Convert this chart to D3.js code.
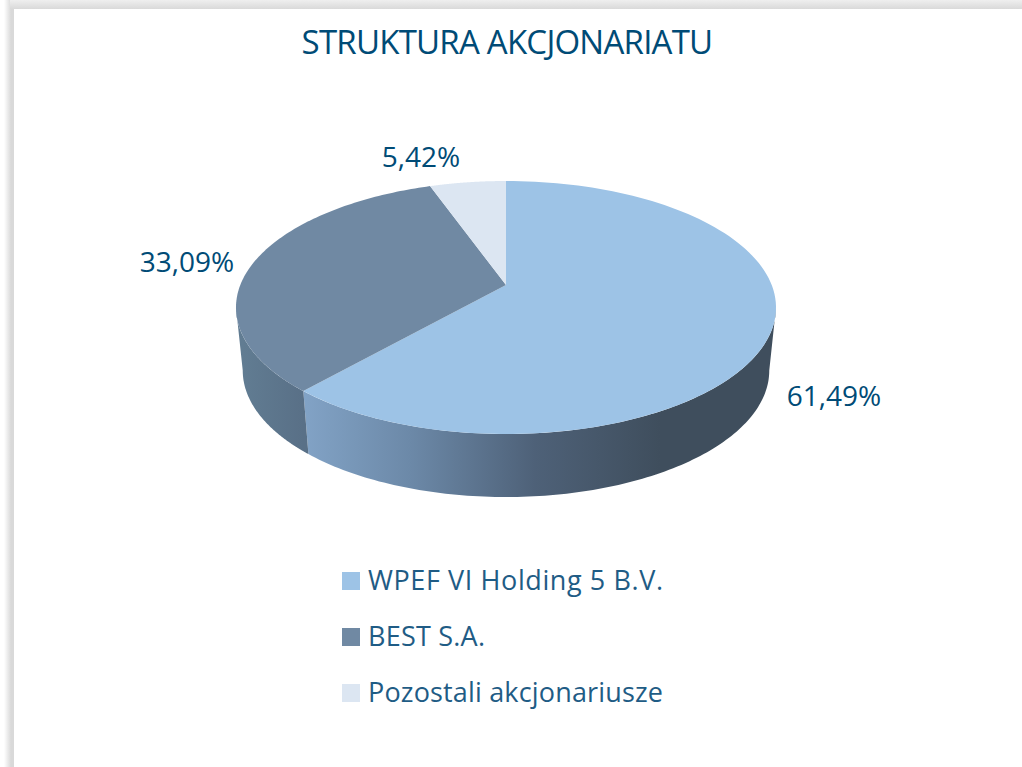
<!DOCTYPE html>
<html><head><meta charset="utf-8">
<script src="https://cdn.jsdelivr.net/npm/d3@7"></script>
<style>html,body{margin:0;padding:0;background:#fff}svg{display:block}text{font-family:"Open Sans",sans-serif}</style>
</head><body><div id="c"></div>
<script>
const title = "STRUKTURA AKCJONARIATU";
const categories = ["WPEF VI Holding 5 B.V.", "BEST S.A.", "Pozostali akcjonariusze"];
const values = [61.49, 33.09, 5.42];
const labels = ["61,49%", "33,09%", "5,42%"];
const topColors = ["#9dc3e6", "#7089a3", "#dce6f2"];
const W = 1022, H = 767, ink = "#004b76", legendInk = "#1f5c85";

const svg = d3.select("#c").append("svg").attr("width", W).attr("height", H);
const defs = svg.append("defs");
function grad(id, x1, y1, x2, y2, stops){
  const g = defs.append("linearGradient").attr("id", id).attr("gradientUnits","userSpaceOnUse")
    .attr("x1",x1).attr("y1",y1).attr("x2",x2).attr("y2",y2);
  stops.forEach(s => g.append("stop").attr("offset", s[0]).attr("stop-color", s[1]));
}
// page frame shadow
grad("fTop",0,0,0,9,[[0,"#efefef"],[1,"#d9d9d9"]]);
grad("fLeft",4,0,11,0,[[0,"#ffffff"],[1,"#d9d9d9"]]);
svg.append("rect").attr("x",4).attr("y",0).attr("width",10).attr("height",H).attr("fill","url(#fLeft)");
svg.append("rect").attr("x",10).attr("y",0).attr("width",W-10).attr("height",9).attr("fill","url(#fTop)");

// perspective projection of a disc, angle measured clockwise from the top
const cx = 506, cy = 285, A = 265.7, B = 122.5, k = 0.178, depth = 63, shrink = 0.975;
const project = (a, low) => {
  const d = 1 + k * Math.cos(a);
  const x = A * Math.sin(a) / d, y = -B * Math.cos(a) / d;
  return low ? [cx + x * shrink, cy + y + depth] : [cx + x, cy + y];
};
const line = d3.line();
const pie = d3.pie().sort(null).value(d => d)(values);
const rimAngles = (a0, a1) => d3.range(0, 121).map(i => a0 + (a1 - a0) * i / 120);

// wall, only the part of the rim facing the viewer
const wallFrom = Math.acos(-k), wallTo = 2 * Math.PI - wallFrom;
grad("w0",303,0,660,0,[[0,"#82a3c6"],[0.3,"#6c89a8"],[0.65,"#4e6178"],[1,"#3f4e5d"]]);
grad("w1",243,0,303,0,[[0,"#617c92"],[1,"#597087"]]);
pie.forEach((s, i) => {
  const a0 = Math.max(s.startAngle, wallFrom), a1 = Math.min(s.endAngle, wallTo);
  if (a1 <= a0) return;
  const as = rimAngles(a0, a1);
  const pts = as.map(a => project(a, false)).concat(as.slice().reverse().map(a => project(a, true)));
  svg.append("path").attr("d", line(pts) + "Z").attr("fill", `url(#w${i})`);
});

// top face
pie.forEach((s, i) => {
  const pts = [[cx, cy]].concat(rimAngles(s.startAngle, s.endAngle).map(a => project(a, false)));
  svg.append("path").attr("d", line(pts) + "Z").attr("fill", topColors[i]);
});

// title and value labels
svg.append("text").attr("x",507).attr("y",54).attr("text-anchor","middle")
  .attr("font-size",33).attr("letter-spacing",-0.77).attr("fill",ink).text(title);
const labelPos = [[834,406],[187,272],[421,167]];
labels.forEach((t, i) => svg.append("text").attr("x",labelPos[i][0]).attr("y",labelPos[i][1])
  .attr("text-anchor","middle").attr("font-size",28).attr("fill",ink).text(t));

// legend
const rowY = d3.scalePoint().domain(categories).range([581,693]);
const legendWidths = [295,117,295];
const legend = svg.append("g").selectAll("g").data(categories).join("g");
legend.append("rect").attr("x",342).attr("y",d => rowY(d)-9).attr("width",18).attr("height",18)
  .attr("fill",(d,i)=>topColors[i]);
legend.append("text").attr("x",368).attr("y",d => rowY(d)+9)
  .attr("font-size",27).attr("textLength",(d,i)=>legendWidths[i]).attr("lengthAdjust","spacing")
  .attr("fill",legendInk).text(d=>d);
</script></body></html>
